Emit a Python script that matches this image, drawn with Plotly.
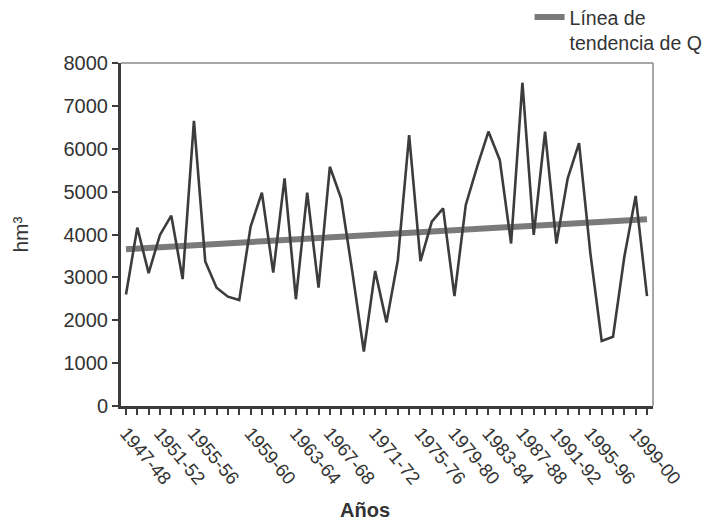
import numpy as np
import plotly.graph_objects as go

# Annual discharge Q (hm³), one value per plotted hydrological year
q_values = [
    2600, 4160, 3100, 3990, 4440, 2960, 6650, 3370, 2760, 2550,
    2470, 4180, 4975, 3110, 5310, 2490, 4975, 2760, 5580, 4840,
    3100, 1270, 3150, 1950, 3400, 6320, 3380, 4300, 4610, 2565,
    4690, 5580, 6400, 5740, 3790, 7540, 3990, 6400, 3790, 5310,
    6130, 3560, 1515, 1615, 3480, 4900, 2565,
]

# Year labels shown along the horizontal axis and the point they sit at
year_labels = [
    "1947-48", "1951-52", "1955-56", "1959-60", "1963-64", "1967-68", "1971-72",
    "1975-76", "1979-80", "1983-84", "1987-88", "1991-92", "1995-96", "1999-00",
]
label_index = [0, 3, 6, 11, 15, 18, 22, 26, 29, 32, 35, 38, 41, 45]

y_ticks = [0, 1000, 2000, 3000, 4000, 5000, 6000, 7000, 8000]

x = np.arange(len(q_values))
slope, intercept = np.polyfit(x, q_values, 1)
trend = slope * x + intercept

FONT = "Liberation Sans, Arial, sans-serif"
DARK = "#3c3c3c"
TEXT = "#333333"

fig = go.Figure()

fig.add_trace(go.Scatter(
    x=x, y=trend, mode="lines",
    line=dict(color="#7a7a7a", width=6),
    name="Línea de<br>tendencia de Q",
    showlegend=True,
))

fig.add_trace(go.Scatter(
    x=x, y=q_values, mode="lines",
    line=dict(color=DARK, width=2.6),
    showlegend=False,
))

fig.update_layout(
    width=713, height=527,
    margin=dict(l=121, r=60, t=63, b=121, autoexpand=False),
    paper_bgcolor="white", plot_bgcolor="white",
    font=dict(family=FONT, color=TEXT),
    legend=dict(
        x=0.768, y=1.19, xanchor="left", yanchor="top",
        font=dict(size=19.5, color=TEXT),
        bgcolor="rgba(0,0,0,0)", valign="top",
    ),
    shapes=[
        # thin frame on the top and right of the plotting area
        dict(type="line", xref="paper", yref="paper", x0=0, x1=1, y0=1, y1=1,
             line=dict(color="#8a8a8a", width=1.5)),
        dict(type="line", xref="paper", yref="paper", x0=1, x1=1, y0=0, y1=1,
             line=dict(color="#8a8a8a", width=1.5)),
    ],
    annotations=[
        dict(text="<b>Años</b>", xref="paper", yref="paper", x=0.459, y=-0.303,
             xanchor="center", yanchor="middle", showarrow=False,
             font=dict(size=20, color=TEXT)),
    ],
)

fig.update_xaxes(
    range=[-0.44, 46.53],
    tickmode="array", tickvals=label_index, ticktext=year_labels,
    tickangle=50, tickfont=dict(size=18.5, color=TEXT),
    ticks="outside", ticklen=6, tickwidth=2, tickcolor=DARK,
    minor=dict(tickmode="linear", tick0=0, dtick=1, ticks="outside",
               ticklen=6, tickwidth=2, tickcolor=DARK, showgrid=False),
    showline=True, linecolor=DARK, linewidth=3,
    showgrid=False, zeroline=False,
)

fig.update_yaxes(
    range=[0, 8000],
    tickmode="array", tickvals=y_ticks,
    tickfont=dict(size=20, color=TEXT),
    ticks="outside", ticklen=6, tickwidth=2, tickcolor=DARK,
    showline=True, linecolor=DARK, linewidth=3,
    showgrid=False, zeroline=False,
    title=dict(text="hm³", font=dict(size=21, color=TEXT), standoff=30),
)

fig.write_html("out.html")
